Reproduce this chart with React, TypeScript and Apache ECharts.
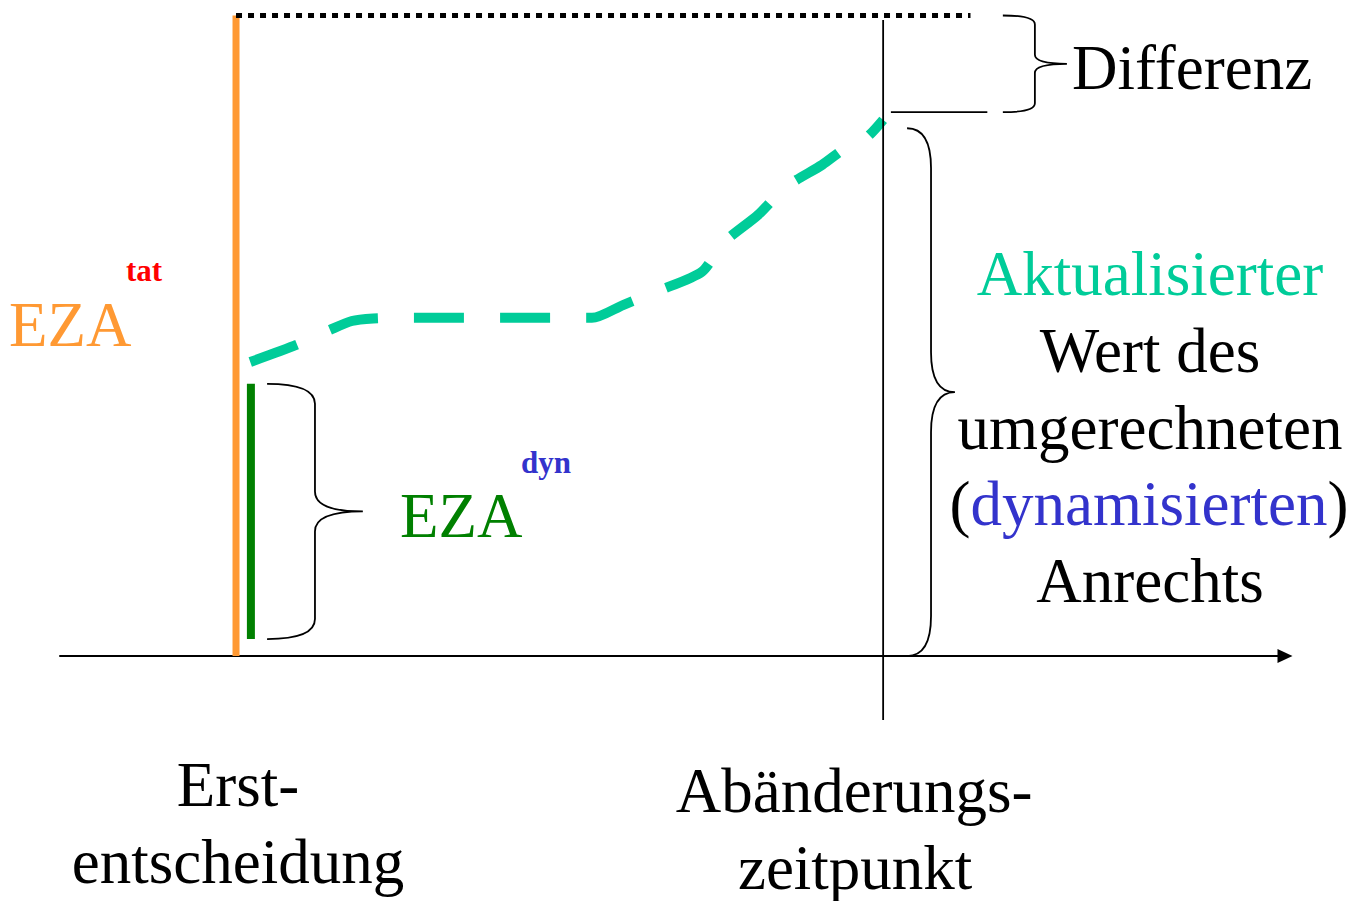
import React, { useEffect, useRef } from "react";
import * as echarts from "echarts";

// Time axis: Erstentscheidung = 0, Abänderungszeitpunkt = 10
const EVENT_T = [0, 10];
const EVENT_LABELS = [["Erst-", "entscheidung"], ["Abänderungs-", "zeitpunkt"]];

// Value axis: 0 = time axis, 100 = EZA tat level
const EZA_TAT = 100;
const EZA_DYN = [2.65, 42.5];
const EZA_DYN_T = 0.23;
const TAT_LINE_END_T = 11.35;

// Aktualisierter Wert (hand-drawn dashed curve)
const CURVE_T = [0.22, 0.94, 1.45, 1.79, 2.12, 2.53, 5.5, 5.98, 6.55, 7.2, 7.53, 8.07, 8.49, 9.06, 9.44, 9.75, 10];
const CURVE_V = [45.9, 48.6, 50.9, 52.3, 52.7, 52.8, 52.8, 54.8, 57.1, 60.0, 64.5, 68.9, 73.2, 76.7, 79.5, 81.0, 83.7];

const ABAENDERUNG_LINE_V = [99.3, -10];
const DIFF_TICK_T = [10.12, 11.61];
const DIFF_LEVEL = 84.9;

const ORANGE = "#FF9933";
const TEAL = "#00CC99";
const GREEN = "#008000";
const BLUE = "#3333CC";
const RED = "#FF0000";
const FONT = '"Liberation Serif", "Times New Roman", serif';

function bracePath(x0: number, xt: number, y0: number, y1: number, c: number) {
  const xs = (x0 + xt) / 2;
  const ym = (y0 + y1) / 2;
  return (
    `M${x0} ${y0} Q${xs} ${y0} ${xs} ${y0 + c} L${xs} ${ym - c} ` +
    `Q${xs} ${ym} ${xt} ${ym} Q${xs} ${ym} ${xs} ${ym + c} ` +
    `L${xs} ${y1 - c} Q${xs} ${y1} ${x0} ${y1}`
  );
}

function txt(x: number, baseline: number, text: string, fs: number, fill: string, align = "left", weight = "normal") {
  return {
    type: "text",
    x,
    y: baseline - 0.3375 * fs,
    silent: true,
    style: { text, fontSize: fs, fontFamily: FONT, fontWeight: weight, fill, align, verticalAlign: "middle" },
  };
}

export default function App() {
  const ref = useRef<HTMLDivElement>(null);
  useEffect(() => {
    if (!ref.current) return;
    const chart = echarts.init(ref.current, null, { renderer: "svg" });
    const line = (data: number[][], color: string, width: number, type: any = "solid", extra: any = {}) => ({
      type: "line",
      data,
      symbol: "none",
      silent: true,
      clip: false,
      lineStyle: { color, width, type, cap: "butt" },
      ...extra,
    });
    chart.setOption({
      animation: false,
      grid: { left: 60, right: 70, top: 15.5, bottom: 168.1 },
      xAxis: {
        type: "value",
        min: -2.72,
        max: 16.21,
        axisLine: {
          show: true,
          onZero: true,
          symbol: ["none", "triangle"],
          symbolSize: [14, 15],
          lineStyle: { color: "#000", width: 2 },
        },
        axisTick: { show: false },
        axisLabel: { show: false },
        splitLine: { show: false },
      },
      yAxis: { type: "value", min: -12, max: 100, show: false },
      series: [
        line([[EVENT_T[0], 0], [EVENT_T[0], EZA_TAT]], ORANGE, 7),
        line([[EVENT_T[0], EZA_TAT], [TAT_LINE_END_T, EZA_TAT]], "#000", 5, [6, 6]),
        line([[EZA_DYN_T, EZA_DYN[0]], [EZA_DYN_T, EZA_DYN[1]]], GREEN, 8),
        line(CURVE_T.map((t, i) => [t, CURVE_V[i]]), TEAL, 10, [50, 36], { smooth: 0.25 }),
        line([[EVENT_T[1], ABAENDERUNG_LINE_V[0]], [EVENT_T[1], ABAENDERUNG_LINE_V[1]]], "#000", 1.8),
        line([[DIFF_TICK_T[0], DIFF_LEVEL], [DIFF_TICK_T[1], DIFF_LEVEL]], "#000", 1.8),
      ],
    });

    const px = (t: number, v: number) => chart.convertToPixel({ gridIndex: 0 }, [t, v]) as number[];

    // braces: [x0 t, tip t, top v, bottom v, corner px]
    const braces: [number, number, number, number, number][] = [
      [11.85, 12.84, EZA_TAT, DIFF_LEVEL, 9],
      [0.48, 1.96, EZA_DYN[1], EZA_DYN[0], 20],
      [10.37, 11.11, 82.4, 0, 40],
    ];
    const graphics: any[] = [];
    braces.forEach((b, i) => {
      const a = px(b[0], b[2]);
      const z = px(b[1], b[3]);
      const name = "brace" + i;
      echarts.graphic.registerShape(name, echarts.graphic.extendPath(bracePath(a[0], z[0], a[1], z[1], b[4]), {}));
      graphics.push({
        type: name,
        x: 0,
        y: 0,
        silent: true,
        style: { fill: "none", stroke: "#000", lineWidth: 1.8 },
      });
    });

    const e0 = px(EVENT_T[0], 0)[0];
    const e1 = px(EVENT_T[1], 0)[0];
    graphics.push(
      txt(9, 346, "EZA", 63, ORANGE),
      txt(126, 281, "tat", 31, RED, "left", "bold"),
      txt(400, 537, "EZA", 63, GREEN),
      txt(521, 473, "dyn", 31, BLUE, "left", "bold"),
      txt(1072, 89, "Differenz", 63, "#000"),
      txt(1150, 295, "Aktualisierter", 63, TEAL, "center"),
      txt(1150, 372, "Wert des", 63, "#000", "center"),
      txt(1150, 449, "umgerechneten", 63, "#000", "center"),
      {
        type: "text",
        x: 1149,
        y: 525 - 0.3375 * 63,
        silent: true,
        style: {
          text: "{k|(}{b|dynamisierten}{k|)}",
          fontSize: 63,
          fontFamily: FONT,
          fill: "#000",
          align: "center",
          verticalAlign: "middle",
          rich: {
            k: { fill: "#000", fontSize: 63, fontFamily: FONT },
            b: { fill: BLUE, fontSize: 63, fontFamily: FONT },
          },
        },
      },
      txt(1150, 602, "Anrechts", 63, "#000", "center"),
      txt(e0 + 2, 806, EVENT_LABELS[0][0], 63, "#000", "center"),
      txt(e0 + 2, 883, EVENT_LABELS[0][1], 63, "#000", "center"),
      txt(e1 - 29, 812, EVENT_LABELS[1][0], 63, "#000", "center"),
      txt(e1 - 28, 889, EVENT_LABELS[1][1], 63, "#000", "center")
    );
    chart.setOption({ graphic: graphics });
    return () => chart.dispose();
  }, []);
  return <div ref={ref} style={{ position: "absolute", left: 0, top: 0, width: 1355, height: 901 }} />;
}
